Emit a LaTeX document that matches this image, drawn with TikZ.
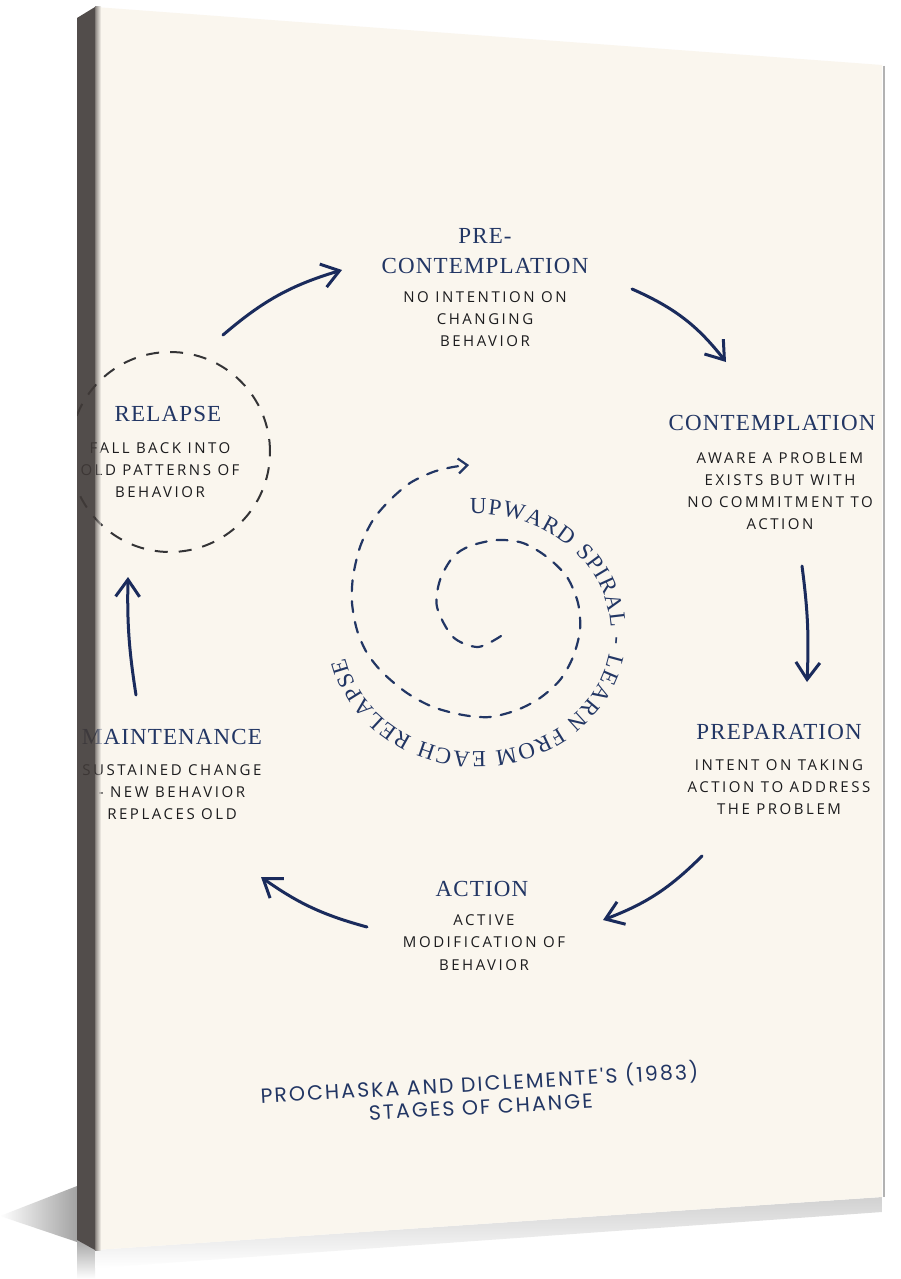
\documentclass[tikz,border=0pt]{standalone}
\usepackage{fontspec}
\usetikzlibrary{arrows.meta,positioning,decorations.text,calc}
\setmainfont{Liberation Serif}
\newfontfamily\headfont[LetterSpace=5]{Liberation Serif}
\newfontfamily\handfont[LetterSpace=17]{Open Sans}
\newfontfamily\titlefont[LetterSpace=10]{Poppins}
\definecolor{navy}{RGB}{34,54,100}
\definecolor{ink}{RGB}{28,28,30}
\definecolor{cream}{RGB}{250,246,238}
\definecolor{sidewall}{RGB}{64,58,56}
\definecolor{arrowblue}{RGB}{26,43,92}
\definecolor{dashgrey}{RGB}{52,52,54}

\tikzset{
  stage/.style={font=\headfont\fontsize{23}{30}\selectfont, text=navy, inner sep=0pt, align=center},
  note/.style={font=\handfont\fontsize{15}{22}\selectfont, text=ink, inner sep=0pt, align=center},
  cyclearrow/.style={arrowblue, line width=3pt, line cap=round,
    -{Straight Barb[length=17pt,width=24pt]}},
}

\begin{document}
\begin{tikzpicture}[x=1pt,y=1pt]
  \fill[white] (0,0) rectangle (900,-1279);
  \useasboundingbox (0,0) rectangle (900,-1279);

  % shadow and reflection of the canvas
  \shade[left color=white, right color=black!45, opacity=0.8]
    (0,-1216) -- (77,-1186) -- (77,-1242) -- cycle;
  \shade[top color=black!35, bottom color=white] (77,-1240) -- (95,-1250) -- (95,-1279) -- (77,-1279) -- cycle;
  \shade[top color=black!18, bottom color=white] (95,-1250) -- (882,-1197) -- (882,-1212) -- (95,-1268) -- cycle;
  \draw[black!30, line width=2.5pt] (884,-66) -- (884,-1197);

  % front of the canvas
  \fill[cream] (95,-7) -- (882,-65) -- (882,-1197) -- (95,-1250) -- cycle;

  \begin{scope}
    \clip (77,-18) -- (95,-7) -- (882,-65) -- (882,-1197) -- (95,-1250) -- (77,-1240) -- cycle;

    % stages
    \node[stage] (precont) at (485,-251) {PRE-\\CONTEMPLATION};
    \node[stage] (cont)    at (772,-423) {CONTEMPLATION};
    \node[stage] (prep)    at (779,-732) {PREPARATION};
    \node[stage] (act)     at (482,-889) {ACTION};
    \node[stage] (maint)   at (172,-737) {MAINTENANCE};
    \node[stage] (relapse) at (168,-414) {RELAPSE};

    \node[note, below=18pt of precont] (precont-note) {NO INTENTION ON\\CHANGING\\BEHAVIOR};
    \node[note, below=21pt of cont, xshift=8pt] (cont-note) {AWARE A PROBLEM\\EXISTS BUT WITH\\NO COMMITMENT TO\\ACTION};
    \node[note, below=19pt of prep] (prep-note) {INTENT ON TAKING\\ACTION TO ADDRESS\\THE PROBLEM};
    \node[note, below=18pt of act, xshift=2pt] (act-note) {ACTIVE\\MODIFICATION OF\\BEHAVIOR};
    \node[note, below=20pt of maint] (maint-note) {SUSTAINED CHANGE\\- NEW BEHAVIOR\\REPLACES OLD};
    \node[note, below=20pt of relapse, xshift=-8pt] (relapse-note) {FALL BACK INTO\\OLD PATTERNS OF\\BEHAVIOR};

    % dashed ring round relapse
    \draw[dashgrey, line width=2pt, dash pattern=on 13pt off 11pt] (170,-452) circle (100);

    % arrows of the cycle
    \coordinate (relapse-out) at (223,-335);
    \coordinate (precont-in)  at (342,-270);
    \coordinate (precont-out) at (632,-289);
    \coordinate (cont-in)     at (726,-362);
    \coordinate (cont-out)    at (802,-566);
    \coordinate (prep-in)     at (807,-682);
    \coordinate (prep-out)    at (702,-856);
    \coordinate (act-in)      at (603,-920);
    \coordinate (act-out)     at (367,-927);
    \coordinate (maint-in)    at (261,-877);
    \coordinate (maint-out)   at (136,-695);
    \coordinate (relapse-in)  at (128,-577);

    \draw[cyclearrow] (relapse-out) to[bend left=12] (precont-in);
    \draw[cyclearrow] (precont-out) to[bend left=14] (cont-in);
    \draw[cyclearrow] (cont-out) to[bend left=5] (prep-in);
    \draw[cyclearrow] (prep-out) to[bend left=12] (act-in);
    \draw[cyclearrow] (act-out) to[bend left=10] (maint-in);
    \draw[cyclearrow] (maint-out) to[bend left=5] (relapse-in);

    % upward spiral
    \coordinate (spiral-c) at (477,-633);
    \draw[navy, line width=2.2pt, line cap=round, dash pattern=on 11pt off 10pt,
      -{Straight Barb[length=9pt,width=15pt]}]
      plot[smooth] coordinates {(501,-636) (478,-647) (453,-637) (437,-607) (440,-580)
        (453,-557) (470,-546) (497,-540) (523,-543) (547,-557) (567,-577) (578,-603)
        (580,-630) (573,-657) (560,-680) (540,-698) (517,-710) (490,-717) (463,-715)
        (433,-707) (407,-693) (383,-673) (367,-653) (357,-630) (352,-603) (353,-577)
        (360,-547) (373,-520) (390,-500) (410,-483) (433,-472) (453,-467) (469,-465)};
    \path[decorate, decoration={text along path, text align={fit to path},
      text={|\headfont\fontsize{23}{23}\selectfont\color{navy}|UPWARD SPIRAL - LEARN FROM EACH RELAPSE}}]
      ($(spiral-c)+(93:134 and 119)$) arc[start angle=93, end angle=-168, x radius=134, y radius=119];

    % source
    \node[font=\titlefont\fontsize{20.5}{23}\selectfont, text=navy, align=center, inner sep=0pt,
      rotate=3.2] (source) at (480,-1093) {PROCHASKA AND DICLEMENTE'S (1983)\\STAGES OF CHANGE};
  \end{scope}

  % side of the canvas
  \fill[sidewall, opacity=0.9] (77,-18) -- (95,-7) -- (95,-1250) -- (77,-1240) -- cycle;
  \shade[left color=sidewall, right color=cream, opacity=0.6] (95,-7) rectangle (101,-1250);
\end{tikzpicture}
\end{document}
